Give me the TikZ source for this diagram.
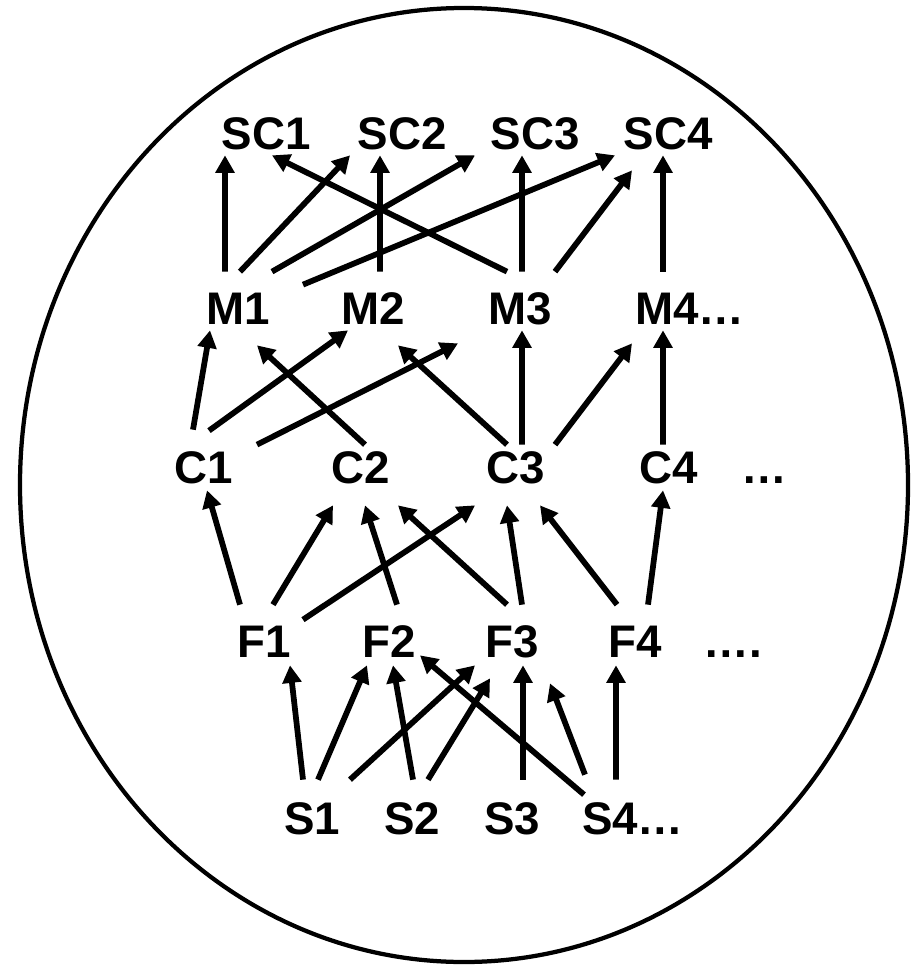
\documentclass[tikz,border=0pt]{standalone}
\usepackage{fontspec}
\setmainfont{Liberation Sans}
\usetikzlibrary{arrows.meta}

\begin{document}
\begin{tikzpicture}[
    x=0.2mm, y=-0.2mm,
    lbl/.style={
        inner sep=0pt,
        anchor=base,
        font=\bfseries\fontsize{26}{30}\selectfont
    },
    screw/.style={lbl, text height=7.7mm, text depth=1.1mm},
    mrow/.style={lbl, text height=10.5mm, text depth=1.1mm},
    crow/.style={lbl, text height=7.7mm, text depth=4.3mm},
    frow/.style={lbl, text height=10.5mm, text depth=1.5mm},
    srow/.style={lbl, text height=10.9mm, text depth=1.1mm},
    arrow/.style={
        -{Triangle[length=3.5mm, width=3.7mm]},
        line width=1.15mm
    }
]
\useasboundingbox (0,0) rectangle (919,970);

% outer ellipse
\draw[line width=0.85mm] (464,485) ellipse [x radius=444, y radius=477];

\node[screw] (SC1) at (266,149.5) {SC1};
\node[screw] (SC2) at (402,149.5) {SC2};
\node[screw] (SC3) at (535,149.5) {SC3};
\node[screw] (SC4) at (668,149.5) {SC4};

\node[mrow] (M1) at (238,324.5) {M1};
\node[mrow] (M2) at (373,324.5) {M2};
\node[mrow] (M3) at (520,324.5) {M3};
\node[mrow] (M4) at (667,324.5) {M4\rlap{…}};

\node[crow] (C1) at (204,483.5) {C1};
\node[crow] (C2) at (361,483.5) {C2};
\node[crow] (C3) at (516,483.5) {C3};
\node[crow] (C4) at (669,483.5) {C4};
\node[crow] (cdots) at (764,483.5) {…};

\node[frow] (F1) at (264,657.5) {F1};
\node[frow] (F2) at (389,657.5) {F2};
\node[frow] (F3) at (512,657.5) {F3};
\node[frow] (F4) at (635,657.5) {F4};
\node[frow] (fdots) at (733,657.5) {….};

\node[srow] (S1) at (312,834.5) {S1};
\node[srow] (S2) at (412,834.5) {S2};
\node[srow] (S3) at (512,834.5) {S3};
\node[srow] (S4) at (610,834.5) {S4\rlap{…}};

% M -> SC
\draw[arrow] ([xshift=-2.6mm]M1.north) -- ([xshift=-8.2mm]SC1.south);
\draw[arrow] ([xshift=0.4mm]M1.north) -- ([xshift=-10.4mm]SC2.south);
\draw[arrow] ([xshift=6.8mm]M1.north) -- ([xshift=-12mm]SC3.south);
\draw[arrow] ([xshift=13mm,yshift=-2.6mm]M1.north) -- ([xshift=-10.6mm]SC4.south);
\draw[arrow] ([xshift=-2.6mm]M3.north) -- ([xshift=1.2mm]SC1.south);
\draw[arrow] ([xshift=1.4mm]M2.north) -- ([xshift=-4.4mm]SC2.south);
\draw[arrow] ([xshift=0.4mm]M3.north) -- ([xshift=-2.6mm]SC3.south);
\draw[arrow] ([xshift=7mm]M3.north) -- ([xshift=-7.2mm,yshift=-3mm]SC4.south);
\draw[arrow] ([xshift=-0.8mm]M4.north) -- ([xshift=-1mm]SC4.south);

% C -> M
\draw[arrow] ([xshift=-2.2mm,yshift=3mm]C1.north) -- ([xshift=-5.6mm]M1.south);
\draw[arrow] ([xshift=1mm,yshift=2.8mm]C1.north) -- ([xshift=-5mm]M2.south);
\draw[arrow] ([xshift=10.6mm]C1.north) -- ([xshift=-12.4mm,yshift=-2.6mm]M3.south);
\draw[arrow] ([xshift=0.8mm]C2.north) -- ([xshift=3.8mm,yshift=-3mm]M1.south);
\draw[arrow] ([xshift=-1.8mm]C3.north) -- ([xshift=5mm,yshift=-3mm]M2.south);
\draw[arrow] ([xshift=1.2mm]C3.north) -- ([xshift=0.4mm]M3.south);
\draw[arrow] ([xshift=7.8mm]C3.north) -- ([xshift=-7mm,yshift=-2.6mm]M4.south);
\draw[arrow] ([xshift=-1.2mm]C4.north) -- ([xshift=-0.8mm]M4.south);

% F -> C
\draw[arrow] ([xshift=-4.8mm]F1.north) -- ([xshift=0.6mm,yshift=3mm]C1.south);
\draw[arrow] ([xshift=1.8mm]F1.north) -- ([xshift=-5.6mm]C2.south);
\draw[arrow] ([xshift=7.8mm,yshift=-3mm]F1.north) -- ([xshift=-8.2mm]C3.south);
\draw[arrow] ([xshift=1.6mm]F2.north) -- ([xshift=0.8mm]C2.south);
\draw[arrow] ([xshift=-1mm]F3.north) -- ([xshift=7.4mm]C2.south);
\draw[arrow] ([xshift=2mm]F3.north) -- ([xshift=-1.8mm]C3.south);
\draw[arrow] ([xshift=-3.6mm]F4.north) -- ([xshift=4.8mm]C3.south);
\draw[arrow] ([xshift=2.6mm]F4.north) -- ([xshift=-1.2mm,yshift=3mm]C4.south);

% S -> F
\draw[arrow] ([xshift=-1.8mm]S1.north) -- ([xshift=5.2mm]F1.south);
\draw[arrow] ([xshift=1.2mm]S1.north) -- ([xshift=-4.4mm]F2.south);
\draw[arrow] ([xshift=7.6mm]S1.north) -- ([xshift=-7.4mm]F3.south);
\draw[arrow] ([xshift=0.2mm]S2.north) -- ([xshift=0.8mm]F2.south);
\draw[arrow] ([xshift=3.2mm]S2.north) -- ([xshift=-4.4mm,yshift=-2.6mm]F3.south);
\draw[arrow] ([xshift=2.2mm]S3.north) -- ([xshift=2.2mm]F3.south);
\draw[arrow] ([xshift=-5.2mm,yshift=-3mm]S4.north) -- ([xshift=6.2mm,yshift=2mm]F2.south);
\draw[arrow] ([xshift=-5mm,yshift=1mm]S4.north) -- ([xshift=7.6mm,yshift=-3.6mm]F3.south);
\draw[arrow] ([xshift=1.2mm]S4.north) -- ([xshift=-3.8mm]F4.south);
\end{tikzpicture}
\end{document}
